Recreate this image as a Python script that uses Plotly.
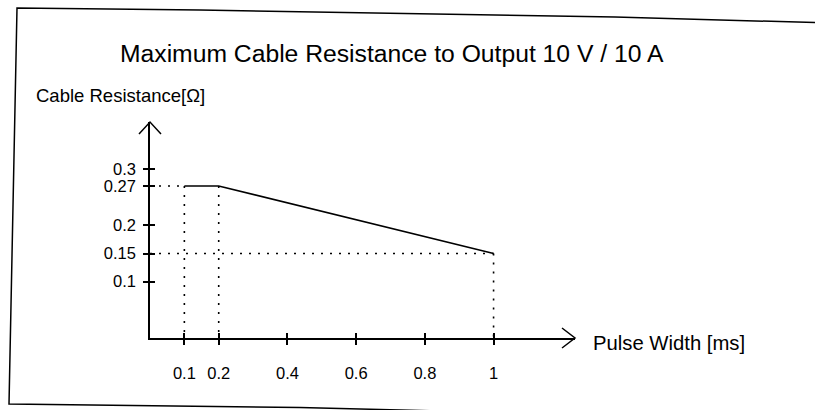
import plotly.graph_objects as go

# Maximum cable resistance vs. pulse width (10 V / 10 A output)
pulse_width_ms = [0.1, 0.2, 1.0]
max_resistance_ohm = [0.27, 0.27, 0.15]

x_tick_vals = [0.1, 0.2, 0.4, 0.6, 0.8, 1.0]
x_tick_text = ["0.1", "0.2", "0.4", "0.6", "0.8", "1"]
y_tick_vals = [0.1, 0.15, 0.2, 0.27, 0.3]
y_tick_text = ["0.1", "0.15", "0.2", "0.27", "0.3"]

title_text = "Maximum Cable Resistance to Output 10 V / 10 A"
y_label = "Cable Resistance[Ω]"
x_label = "Pulse Width [ms]"

W, H = 815, 410
L, R, T, B = 150, 240, 122, 72
X_MAX, Y_MAX = 1.237, 0.3837
FONT = "Liberation Sans, Arial, sans-serif"
INK = "black"

pw, ph = W - L - R, H - T - B


def px(xp):
    return (xp - L) / pw


def py(yp):
    return (H - B - yp) / ph


# dotted guides: from the y axis to the first and last points, and down to the x axis
gx, gy = [], []
for xi, yi in [(pulse_width_ms[0], max_resistance_ohm[0]), (pulse_width_ms[-1], max_resistance_ohm[-1])]:
    gx += [0, xi, None]
    gy += [yi, yi, None]
for xi, yi in zip(pulse_width_ms, max_resistance_ohm):
    gx += [xi, xi, None]
    gy += [yi, 0, None]

fig = go.Figure()
fig.add_trace(go.Scatter(x=gx, y=gy, mode="lines", hoverinfo="skip",
                         line=dict(color=INK, width=1.6, dash="2px,7px")))
fig.add_trace(go.Scatter(x=pulse_width_ms, y=max_resistance_ohm, mode="lines",
                         line=dict(color=INK, width=1.6)))
# companion axes that carry the inner halves of the cross ticks
fig.add_trace(go.Scatter(x=[], y=[], xaxis="x2", yaxis="y2", hoverinfo="skip"))

common = dict(showgrid=False, zeroline=False, tickcolor=INK, tickwidth=1.5, ticklen=5)
fig.update_layout(
    width=W, height=H, showlegend=False,
    margin=dict(l=L, r=R, t=T, b=B),
    paper_bgcolor="white", plot_bgcolor="white",
    font=dict(family=FONT, color=INK),
    xaxis=dict(range=[0, X_MAX], tickvals=x_tick_vals, ticktext=x_tick_text,
               ticks="outside", showline=True, linecolor=INK, linewidth=1.5,
               tickfont=dict(size=16.5), ticklabelstandoff=14, **common),
    yaxis=dict(range=[0, Y_MAX], tickvals=y_tick_vals, ticktext=y_tick_text,
               ticks="outside", showline=True, linecolor=INK, linewidth=1.5,
               tickfont=dict(size=16.5), ticklabelstandoff=4, **common),
    xaxis2=dict(range=[0, X_MAX], tickvals=x_tick_vals, ticks="inside",
                showticklabels=False, overlaying="x", anchor="y2", side="bottom", **common),
    yaxis2=dict(range=[0, Y_MAX], tickvals=y_tick_vals, ticks="inside",
                showticklabels=False, overlaying="y", anchor="x2", side="left", **common),
)

# open arrowheads at the ends of both axes (paper refs so they are not clipped)
fig.add_shape(type="path", xref="paper", yref="paper", xsizemode="pixel", ysizemode="pixel",
              xanchor=1, yanchor=0, path="M -13,10 L 0,0 L -13,-10",
              line=dict(color=INK, width=1.5))
fig.add_shape(type="path", xref="paper", yref="paper", xsizemode="pixel", ysizemode="pixel",
              xanchor=0, yanchor=1, path="M -11,-12 L 0,0 L 11,-12",
              line=dict(color=INK, width=1.5))

# outer frame
frame = [(830, 23), (615, 17), (200, 10), (17, 8), (9, 404), (300, 407.5), (520, 413)]
path = "M " + " L ".join(f"{px(a):.5f},{py(b):.5f}" for a, b in frame)
fig.add_shape(type="path", xref="paper", yref="paper", path=path,
              line=dict(color=INK, width=1.5))

fig.add_annotation(text=title_text, xref="paper", yref="paper", x=px(392), y=py(53),
                   xanchor="center", yanchor="middle", showarrow=False, font=dict(size=24.7))
fig.add_annotation(text=y_label, xref="paper", yref="paper", x=px(34), y=py(96),
                   xanchor="left", yanchor="middle", showarrow=False, font=dict(size=18.5))
fig.add_annotation(text=x_label, xref="paper", yref="paper", x=px(591), y=py(343),
                   xanchor="left", yanchor="middle", showarrow=False, font=dict(size=20.3))

fig.write_html("out.html")
